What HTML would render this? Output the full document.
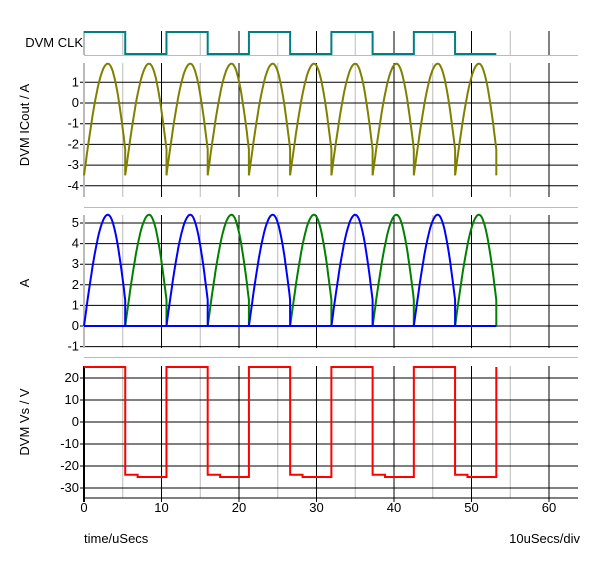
<!DOCTYPE html>
<html><head><style>body{margin:0;background:#fff}svg{display:block;font-family:"Liberation Sans",sans-serif;font-size:13px}</style></head>
<body><svg id="s" width="600" height="563" xmlns="http://www.w3.org/2000/svg"></svg>
<script>
const s=document.getElementById('s');let h='';
const X=t=>84+t*7.75, R=578, T=5.32, N=10, END=53.2;
function L(x1,y1,x2,y2,c,w){h+=`<line x1="${x1}" y1="${y1}" x2="${x2}" y2="${y2}" stroke="${c}" stroke-width="${w||1}"/>`;}
function txt(x,y,t,a,extra){h+=`<text x="${x}" y="${y}" text-anchor="${a||'end'}" ${extra||''}>${t}</text>`;}
function vgrid(y1,y2){for(let t=5;t<=60;t+=5){const x=X(t);if(x>R)break;L(x,y1,x,y2,t%10?'#bbb':'#000',1);} }
vgrid(31,55);L(84,31,84,55,'#bbb',2);L(84,55.5,R,55.5,'#bbb',1);
txt(83,47,'DVM CLK');
let p='M84,32';for(let k=0;k<N;k++){const y=k%2?54:32;const x0=X(k*T),x1=X((k+1)*T);p+=`L${x0},${y}L${x1},${y}`;}
h+=`<path d="${p}" fill="none" stroke="#008080" stroke-width="2"/>`;
function sh(u){let v;if(u<0.58)v=0.5*u/0.58;else v=0.5+0.425*(u-0.58)/0.42;return 5.4*Math.sin(Math.PI*v);}
function panel(top,bot,y0,sc,ticks,grey){vgrid(top,bot);for(const v of ticks){const y=y0-v*sc;L(80,y,R,y,'#000',1);txt(79,y+4,v);}L(84,top,84,bot,grey?'#bbb':'#000',2);}
panel(63,197,103,20.7,[1,0,-1,-2,-3,-4],true);
L(84,207.5,R,207.5,'#bbb',1);
p='';for(let k=0;k<N;k++){for(let i=0;i<=60;i++){const u=i/60;const v=sh(u)-3.5;p+=(p?'L':'M')+X(k*T+u*T).toFixed(1)+','+(103-v*20.7).toFixed(1);}p+='L'+X((k+1)*T).toFixed(1)+','+(103+3.5*20.7).toFixed(1);}
h+=`<path d="${p}" fill="none" stroke="#808000" stroke-width="2"/>`;
h+=`<text transform="translate(29,125) rotate(-90)" text-anchor="middle">DVM ICout / A</text>`;
panel(215,348,326,20.6,[5,4,3,2,1,0,-1],true);
L(84,357.5,R,357.5,'#bbb',1);
function pulses(par,col){let q=`M84,326L${X(END)},326`;for(let k=par;k<N;k+=2){let d='';for(let i=0;i<=60;i++){const u=i/60;d+=(d?'L':'M')+X(k*T+u*T).toFixed(1)+','+(326-sh(u)*20.6).toFixed(1);}d+='L'+X((k+1)*T).toFixed(1)+',326';q+=d;}h+=`<path d="${q}" fill="none" stroke="${col}" stroke-width="2"/>`;}
pulses(1,'#008000');pulses(0,'#0000ff');
h+=`<text transform="translate(29,283) rotate(-90)" text-anchor="middle">A</text>`;
vgrid(366,498);for(const v of [20,10,0,-10,-20,-30]){const y=422-v*2.2;L(80,y,R,y,'#000',1);txt(79,y+4,v);}
L(84,366,84,502,'#000',2);L(84,498,R,498,'#000',1);
for(let t=0;t<=60;t+=10){L(X(t),498,X(t),502,'#000',1);txt(X(t),512,t,'middle');}
p='';for(let k=0;k<N;k++){const x0=X(k*T),x1=X((k+1)*T);if(k%2==0){p+=(p?'L':'M')+x0+','+(422-25*2.2)+'L'+x1+','+(422-25*2.2);}else{p+='L'+x0+','+(422+24*2.2)+'L'+X(k*T+1.6)+','+(422+24*2.2)+'L'+X(k*T+1.6)+','+(422+25*2.2)+'L'+x1+','+(422+25*2.2);}}
p+='L'+X(END)+','+(422-25*2.2);
h+=`<path d="${p}" fill="none" stroke="#ff0000" stroke-width="2"/>`;
h+=`<text transform="translate(29,422) rotate(-90)" text-anchor="middle">DVM Vs / V</text>`;
txt(84,543,'time/uSecs','start');txt(580,543,'10uSecs/div');
s.innerHTML=h;
</script></body></html>
